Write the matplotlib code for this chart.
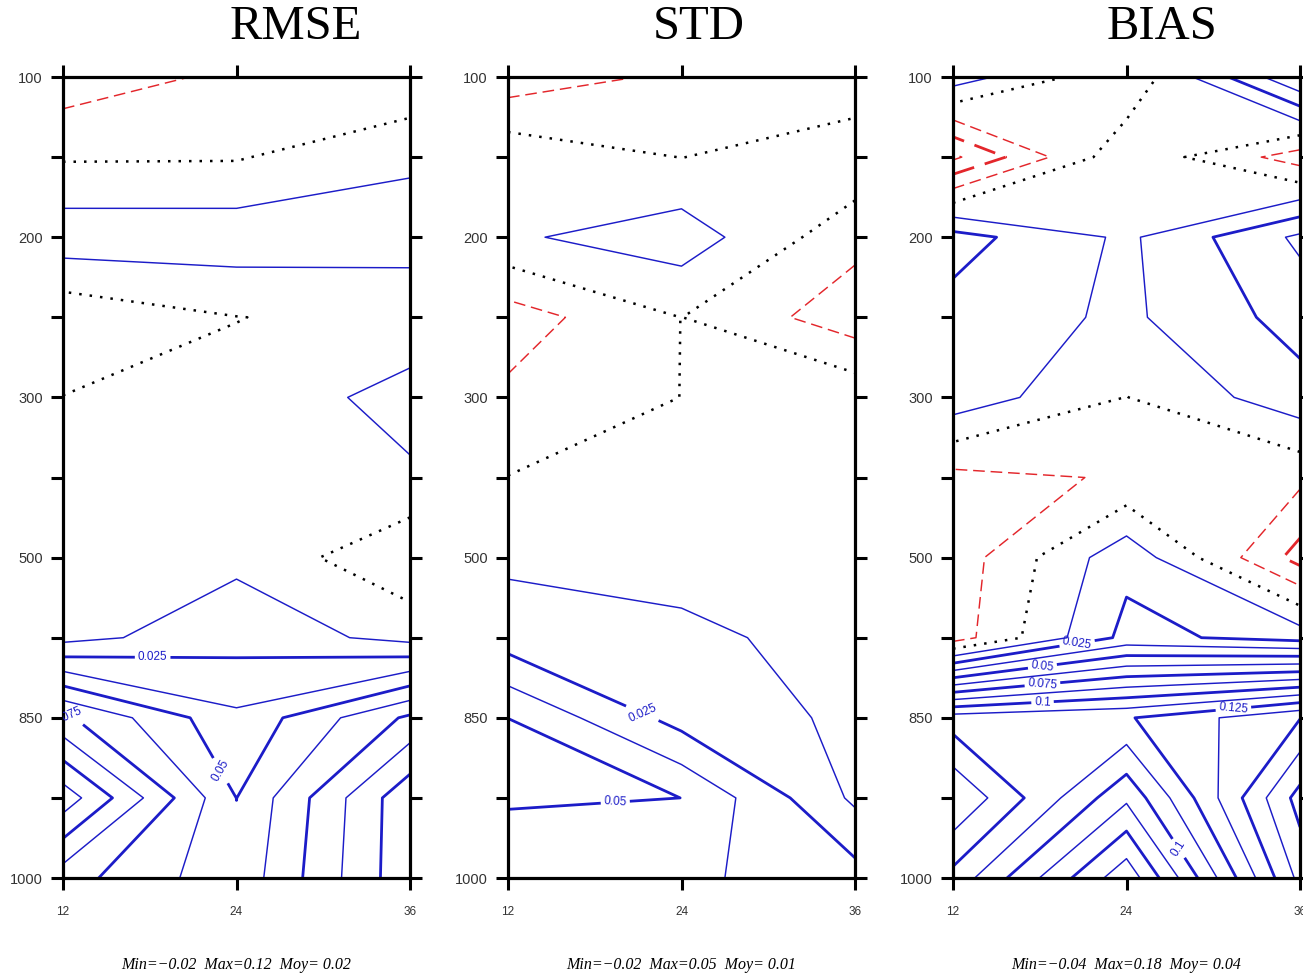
import numpy as np
import matplotlib

matplotlib.use("Agg")
import matplotlib.pyplot as plt


HOURS = [12, 24, 36]
PLEVELS = [100, 150, 200, 250, 300, 400, 500, 700, 850, 925, 1000]
PLABELS = ["100", "", "200", "", "300", "", "500", "", "850", "", "1000"]

# rows = pressure levels (100 -> 1000 hPa), columns = forecast hours 12/24/36
RMSE = np.array([
    [-0.0199, -0.00975, -0.0110],
    [-0.00125, -0.0010, 0.0106],
    [0.02025, 0.0201, 0.0179],
    [-0.0095, -0.00025, 0.00375],
    [0.00025, 0.0034, 0.0176],
    [0.0050, 0.00625, 0.0105],
    [0.0075, 0.00975, -0.0106],
    [0.0085, 0.0200, 0.0085],
    [0.0775, 0.0400, 0.0775],
    [0.1200, 0.04988, 0.1095],
    [0.0805, 0.05375, 0.1095],
])

STD = np.array([
    [-0.0200, -0.0099, -0.0104],
    [0.0091, -0.00025, 0.0100],
    [0.0106, 0.0195, -0.0085],
    [-0.01875, 0.000125, -0.0200],
    [-0.0099, 0.000125, 0.0089],
    [0.00025, 0.00375, 0.0075],
    [0.0102, 0.0061, 0.00625],
    [0.01875, 0.01625, 0.0064],
    [0.04999, 0.0200, 0.0100],
    [0.05125, 0.04999, 0.0101],
    [0.0425, 0.0400, 0.0300],
])

BIAS = np.array([
    [0.01925, -0.0106, 0.0501],
    [-0.0400, 0.0094, -0.0188],
    [0.0300, 0.0101, 0.0400],
    [0.0203, 0.0101, 0.0300],
    [0.0205, -0.00025, 0.0203],
    [-0.0163, -0.0113, -0.0095],
    [-0.0200, 0.0213, -0.0300],
    [-0.0188, 0.0288, 0.0200],
    [0.11875, 0.12375, 0.1495],
    [0.1494, 0.0900, 0.1800],
    [0.1209, 0.05375, 0.16625],
])

TITLES = ["RMSE", "STD", "BIAS"]
STATS = [
    "Min=\u22120.02  Max=0.12  Moy= 0.02",
    "Min=\u22120.02  Max=0.05  Moy= 0.01",
    "Min=\u22120.04  Max=0.18  Moy= 0.04",
]
TITLE_X = [296, 699, 1162]

# contour labels: (level, hour, level index)
LABELS = [
    [(0.025, 18.2, 7.24), (0.05, 22.9, 8.66), (0.075, 12.3, 8.0)],
    [(0.025, 21.3, 7.94), (0.05, 19.4, 9.0)],
    [(0.025, 20.6, 7.09), (0.05, 18.2, 7.38), (0.075, 18.2, 7.61),
     (0.1, 18.2, 7.83), (0.125, 31.4, 7.9), (0.1, 27.6, 9.63)],
]

CINT = 0.0125
BLUE = "#1c1cc8"
RED = "#e3262b"

W, H = 1303, 973
fig = plt.figure(figsize=(W / 100, H / 100), dpi=100)
plt.rcParams["font.family"] = ["Liberation Sans", "DejaVu Sans"]

PANEL_LEFT = [63, 508, 953]
PANEL_W = 347
TOP, BOTTOM = 77, 878

yidx = np.arange(len(PLEVELS))


def lw_for(k):
    return 2.0 if k % 2 == 0 else 1.05


for p, data in enumerate([RMSE, STD, BIAS]):
    x0 = PANEL_LEFT[p]
    ax = fig.add_axes([x0 / W, 1 - BOTTOM / H, PANEL_W / W, (BOTTOM - TOP) / H])

    kneg = list(range(-4, 0))
    cn = ax.contour(HOURS, yidx, data, levels=[k * CINT for k in kneg],
                    colors=RED, linewidths=[lw_for(k) for k in kneg])
    cn.set_linestyle((0, (8, 4)))
    cz = ax.contour(HOURS, yidx, data, levels=[0.0], colors="black", linewidths=1.8)
    cz.set_linestyle((0, (1, 3.2)))

    labelled = {}
    for lev, hx, hy in LABELS[p]:
        k = int(round(lev / CINT))
        labelled.setdefault(k, []).append((hx, hy))
    kpos = [k for k in range(1, 17) if k not in labelled]
    ax.contour(HOURS, yidx, data, levels=[k * CINT for k in kpos],
               colors=BLUE, linewidths=[lw_for(k) for k in kpos])
    for k, spots in labelled.items():
        cl = ax.contour(HOURS, yidx, data, levels=[k * CINT], colors=BLUE,
                        linewidths=lw_for(k))
        txts = ax.clabel(cl, manual=spots, fmt=lambda v: f"{v:g}", fontsize=8.5,
                         inline=True, inline_spacing=3, colors=BLUE)
        for t in txts:
            t.set_clip_on(True)
            t.set_clip_box(ax.bbox)

    ax.set_xlim(12, 36)
    ax.set_ylim(10, 0)
    ax.set_xticks(HOURS)
    ax.set_xticklabels([str(h) for h in HOURS])
    ax.set_yticks(yidx)
    ax.set_yticklabels(PLABELS)
    ax.tick_params(axis="both", direction="out", length=8.5, width=2.2,
                   top=True, right=True)
    ax.tick_params(axis="y", labelsize=10.5, pad=6, labelcolor="#333333")
    ax.tick_params(axis="x", labelsize=8.5, pad=12, labelcolor="#333333")
    for s in ax.spines.values():
        s.set_linewidth(2.3)

    fig.text(TITLE_X[p] / W, 1 - 27 / H, TITLES[p], ha="center", va="center",
             fontsize=35, family="Liberation Serif")
    fig.text((x0 + PANEL_W / 2) / W, 1 - 965 / H, STATS[p], ha="center",
             va="center", fontsize=11.5, style="italic", family="Liberation Serif")

fig.savefig("out.png", dpi=100)
